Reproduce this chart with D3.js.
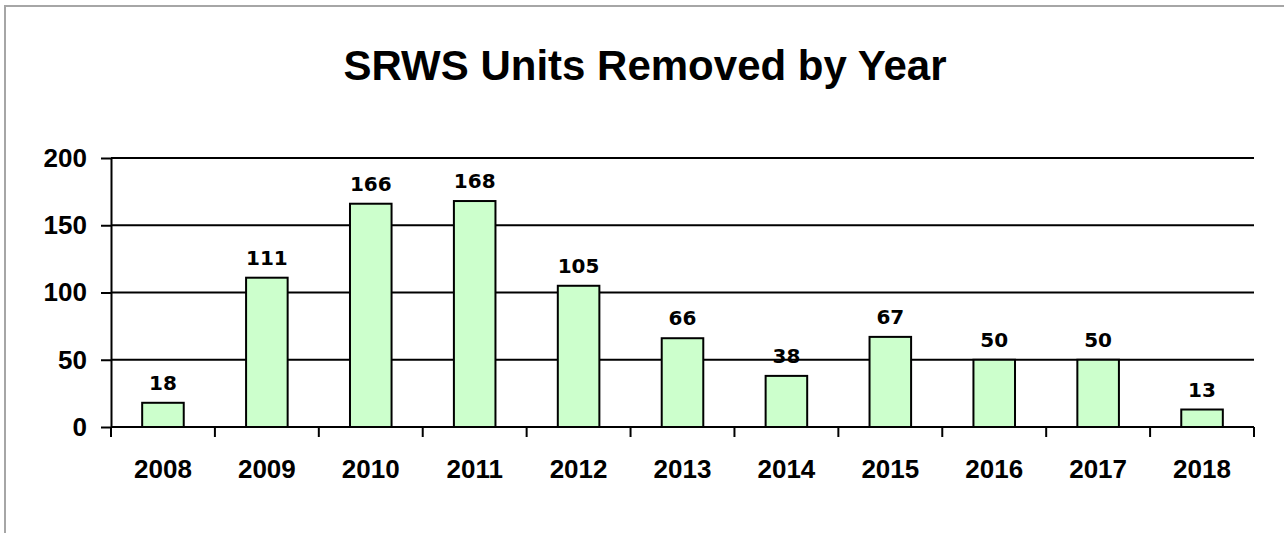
<!DOCTYPE html>
<html>
<head>
<meta charset="utf-8">
<script src="https://cdn.jsdelivr.net/npm/d3@7"></script>
<style>
  html, body { margin: 0; padding: 0; background: #fff; }
  svg { display: block; }
</style>
</head>
<body>
<svg id="chart" width="1285" height="533"></svg>
<script>
// Units removed per year
const years = ["2008", "2009", "2010", "2011", "2012", "2013", "2014", "2015", "2016", "2017", "2018"];
const unitsRemoved = [18, 111, 166, 168, 105, 66, 38, 67, 50, 50, 13];
const yTicks = [0, 50, 100, 150, 200];
const chartTitle = "SRWS Units Removed by Year";

const svg = d3.select("#chart");
const W = 1285, H = 533;

// outer frame
svg.append("path")
  .attr("d", `M5,${H} V6 H${W - 1}`)
  .attr("fill", "none")
  .attr("stroke", "#a6a6a6")
  .attr("stroke-width", 2);

const plot = { left: 111, right: 1254, top: 158, bottom: 427 };

const x = d3.scaleBand()
  .domain(years)
  .range([plot.left, plot.right])
  .padding(0);

const y = d3.scaleLinear()
  .domain([0, 200])
  .range([plot.bottom, plot.top]);

// title
svg.append("text")
  .attr("x", 645)
  .attr("y", 80)
  .attr("text-anchor", "middle")
  .attr("font-family", "Liberation Sans, Arial, sans-serif")
  .attr("font-weight", "bold")
  .attr("font-size", 42)
  .attr("fill", "#000")
  .text(chartTitle);

// horizontal gridlines
svg.append("g")
  .selectAll("line")
  .data(yTicks.filter(d => d > 0))
  .join("line")
  .attr("x1", plot.left)
  .attr("x2", plot.right)
  .attr("y1", d => y(d))
  .attr("y2", d => y(d))
  .attr("stroke", "#000")
  .attr("stroke-width", 2);

// y axis
const yAxis = svg.append("g")
  .attr("transform", `translate(${plot.left},0)`)
  .call(d3.axisLeft(y).tickValues(yTicks).tickSize(10).tickPadding(14).tickSizeOuter(0));
yAxis.select(".domain").attr("stroke", "#000").attr("stroke-width", 2);
yAxis.selectAll(".tick line").attr("stroke", "#000").attr("stroke-width", 2);
yAxis.selectAll(".tick text")
  .attr("font-family", "Liberation Sans, Arial, sans-serif")
  .attr("font-weight", "bold")
  .attr("font-size", 26)
  .attr("fill", "#000");

// bars
const barW = x.bandwidth() * 0.4;
svg.append("g")
  .selectAll("rect")
  .data(years)
  .join("rect")
  .attr("x", d => x(d) + (x.bandwidth() - barW) / 2)
  .attr("width", barW)
  .attr("y", (d, i) => y(unitsRemoved[i]))
  .attr("height", (d, i) => y(0) - y(unitsRemoved[i]))
  .attr("fill", "#ccffcc")
  .attr("stroke", "#000")
  .attr("stroke-width", 2);

// value labels
svg.append("g")
  .selectAll("text")
  .data(years)
  .join("text")
  .attr("x", d => x(d) + x.bandwidth() / 2)
  .attr("y", (d, i) => y(unitsRemoved[i]) - 13)
  .attr("text-anchor", "middle")
  .attr("font-family", "DejaVu Sans, Verdana, sans-serif")
  .attr("font-weight", "bold")
  .attr("font-size", 20)
  .attr("fill", "#000")
  .text((d, i) => unitsRemoved[i]);

// x axis with tick marks between categories
const xAxisG = svg.append("g");
xAxisG.append("line")
  .attr("x1", plot.left).attr("x2", plot.right)
  .attr("y1", y(0)).attr("y2", y(0))
  .attr("stroke", "#000").attr("stroke-width", 2);
const boundaries = years.map(d => x(d)).concat([x(years[years.length - 1]) + x.bandwidth()]);
xAxisG.selectAll("line.sep")
  .data(boundaries)
  .join("line")
  .attr("class", "sep")
  .attr("x1", d => d).attr("x2", d => d)
  .attr("y1", y(0)).attr("y2", y(0) + 10)
  .attr("stroke", "#000").attr("stroke-width", 2);
xAxisG.selectAll("text")
  .data(years)
  .join("text")
  .attr("x", d => x(d) + x.bandwidth() / 2)
  .attr("y", 478)
  .attr("text-anchor", "middle")
  .attr("font-family", "Liberation Sans, Arial, sans-serif")
  .attr("font-weight", "bold")
  .attr("font-size", 26)
  .attr("fill", "#000")
  .text(d => d);
</script>
</body>
</html>
